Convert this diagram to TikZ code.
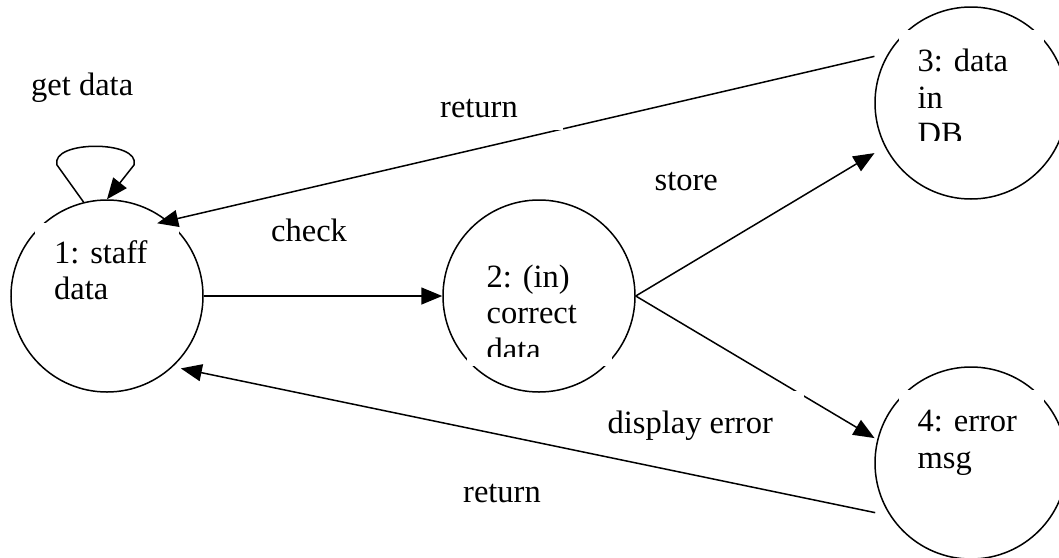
\documentclass[tikz,border=0pt]{standalone}
\usepackage{fontspec}
\setmainfont{Liberation Serif}
\usetikzlibrary{arrows.meta}
\newcommand\lblfont{\fontsize{32.5}{36.5}\selectfont}
\begin{document}
\begin{tikzpicture}[x=1pt,y=-1pt,
  state/.style={circle, draw, line width=1.5pt, minimum size=192pt, inner sep=0pt},
  flow/.style={-{Triangle[length=21pt,width=17pt]}, line width=1.5pt},
  txt/.style={anchor=base west, inner sep=0pt, font=\lblfont},
  blank/.style={fill=white}]
\useasboundingbox (0,0) rectangle (1059,557);
\clip (0,0) rectangle (1059,557);

% states
\node[state] (c1) at (107,296) {};
\node[state] (c2) at (539,296) {};
\node[state] (c3) at (971,103) {};
\node[state] (c4) at (971,463) {};

% state captions (text boxes)
\fill[blank] (35,223) rectangle (179,330);
\node[txt] (t1a) at (54,263) {1: staff};
\node[txt] (t1b) at (54,299.5) {data};

\fill[blank] (466.5,240) rectangle (611.5,366);
\begin{scope}
  \clip (485,240) rectangle (600,356.5);
  \node[txt] (t2a) at (486.5,287) {2: (in)};
  \node[txt] (t2b) at (486.5,323.5) {correct};
  \node[txt] (t2c) at (486.5,360) {data};
\end{scope}

\fill[blank] (898.5,30) rectangle (1043.5,149.5);
\begin{scope}
  \clip (917,30) rectangle (1043.5,140);
  \node[txt] (t3a) at (917.5,71.5) {3: data};
  \node[txt] (t3b) at (917.5,108) {in};
  \node[txt] (t3c) at (917.5,144.5) {DB};
\end{scope}

\fill[blank] (898.5,390) rectangle (1043.5,505);
\node[txt] (t4a) at (917.5,431.5) {4: error};
\node[txt] (t4b) at (917.5,468) {msg};

% transitions
\coordinate (l1) at (57,165);
\coordinate (l2) at (134,165);
\draw[flow] (c1.104) -- (l1) .. controls +(-7,-25) and +(7,-25) .. (l2) -- (c1.north);
\draw[flow, shorten <=14pt, shorten >=-11pt] (c3.149) -- (c1.51);
\draw[flow] (c1) -- (c2);
\draw[flow, shorten >=12pt] (c2.east) -- (c3.207);
\draw[flow, shorten >=3pt] (c2.east) -- (c4.166);
\draw[flow, shorten <=15pt, shorten >=8pt] (c4.213) -- (c1.313);

% transition labels
\node[txt] (getdata) at (31,95.5) {get data};

\fill[blank] (421,85) rectangle (563,129.5);
\begin{scope}
  \clip (421,85) rectangle (563,117.8);
  \node[txt] (ret1) at (440,117) {return};
\end{scope}

\begin{scope}
  \clip (636,150) rectangle (736,190.5);
  \node[txt] (store) at (654.5,190) {store};
\end{scope}

\node[txt] (check) at (271,241) {check};

\fill[blank] (589,391) rectangle (804,449);
\node[txt] (disp) at (607.5,433) {display error};

\begin{scope}
  \clip (444,465) rectangle (560,502);
  \node[txt] (ret2) at (463,502) {return};
\end{scope}
\end{tikzpicture}
\end{document}
